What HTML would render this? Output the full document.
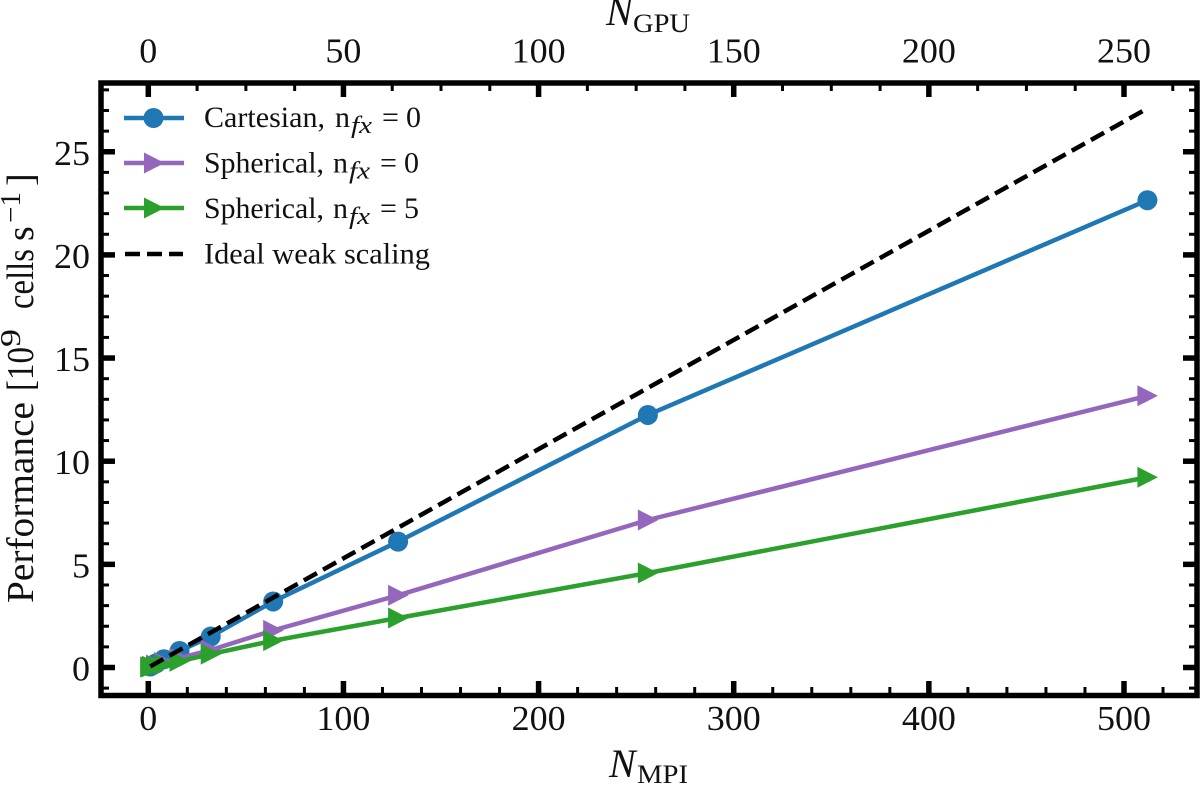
<!DOCTYPE html>
<html>
<head>
<meta charset="utf-8">
<title>Weak scaling performance</title>
<style>
html,body{margin:0;padding:0;background:#fff;width:1200px;height:785px;overflow:hidden}
svg{display:block}
text{font-family:"Liberation Serif","DejaVu Serif",serif;fill:#111}
</style>
</head>
<body>
<svg id="chart" width="1200" height="785" viewBox="0 0 1200 785" xmlns="http://www.w3.org/2000/svg">
  <g id="series-layer"></g>
  <g id="tick-layer"></g>
  <rect x="101" y="83" width="1096" height="612.5" fill="none" stroke="#000" stroke-width="5.5"/>

  <text x="609" y="777" font-size="40" font-style="italic">N</text>
  <text x="637" y="783" font-size="26" textLength="51" lengthAdjust="spacingAndGlyphs">MPI</text>
  <text x="606" y="25" font-size="40" font-style="italic">N</text>
  <text x="633" y="32" font-size="26" textLength="57" lengthAdjust="spacingAndGlyphs">GPU</text>

  <g transform="translate(33,605)">
    <g transform="rotate(-90)">
      <text x="2" y="0" font-size="38" textLength="201" lengthAdjust="spacingAndGlyphs">Performance</text>
      <text x="214" y="0" font-size="38" textLength="44" lengthAdjust="spacingAndGlyphs">[10</text>
      <text x="258" y="-13" font-size="28" textLength="18" lengthAdjust="spacingAndGlyphs">9</text>
      <text x="296" y="0" font-size="38" textLength="60" lengthAdjust="spacingAndGlyphs">cells</text>
      <text x="364" y="0" font-size="38">s</text>
      <text x="382" y="-13" font-size="28" textLength="31" lengthAdjust="spacingAndGlyphs">−1</text>
      <text x="419" y="0" font-size="38">]</text>
    </g>
  </g>

  <g>
    <g>
      <line x1="124" x2="184" y1="118" y2="118" stroke="#1f77b4" stroke-width="4.5"/>
      <circle cx="153.500" cy="118" r="10" fill="#1f77b4"/>
      <text x="204" y="127" font-size="30" textLength="121" lengthAdjust="spacingAndGlyphs">Cartesian,</text>
      <text x="335" y="127" font-size="30">n</text>
      <text x="351" y="133" font-size="24" font-style="italic" textLength="21" lengthAdjust="spacingAndGlyphs">fx</text>
      <text x="382" y="127" font-size="30">=</text>
      <text x="406" y="127" font-size="30">0</text>
    </g>
    <g>
      <line x1="124" x2="184" y1="163" y2="163" stroke="#9467bd" stroke-width="4.5"/>
      <polygon points="144,152.500 164.500,163 144,173.500" fill="#9467bd"/>
      <text x="204" y="172.500" font-size="30" textLength="120" lengthAdjust="spacingAndGlyphs">Spherical,</text>
      <text x="333" y="172.500" font-size="30">n</text>
      <text x="349" y="178.500" font-size="24" font-style="italic" textLength="21" lengthAdjust="spacingAndGlyphs">fx</text>
      <text x="380" y="172.500" font-size="30">=</text>
      <text x="404" y="172.500" font-size="30">0</text>
    </g>
    <g>
      <line x1="124" x2="184" y1="208" y2="208" stroke="#2ca02c" stroke-width="4.5"/>
      <polygon points="144,197.500 164.500,208 144,218.500" fill="#2ca02c"/>
      <text x="204" y="218" font-size="30" textLength="120" lengthAdjust="spacingAndGlyphs">Spherical,</text>
      <text x="333" y="218" font-size="30">n</text>
      <text x="349" y="224" font-size="24" font-style="italic" textLength="21" lengthAdjust="spacingAndGlyphs">fx</text>
      <text x="380" y="218" font-size="30">=</text>
      <text x="404" y="218" font-size="30">5</text>
    </g>
    <g>
      <line x1="125" x2="183" y1="254" y2="254" stroke="#000" stroke-width="4.5" stroke-dasharray="15 7"/>
      <text x="204" y="263.500" font-size="30" textLength="226" lengthAdjust="spacingAndGlyphs">Ideal weak scaling</text>
    </g>
  </g>
</svg>
<script>
const ranks = [1, 2, 4, 8, 16, 32, 64, 128, 256, 512];
const cartesianValues = [0.05, 0.1, 0.2, 0.4, 0.8, 1.5, 3.2, 6.1, 12.24, 22.65];
const sphericalZeroValues = [0.03, 0.06, 0.12, 0.24, 0.45, 0.85, 1.8, 3.5, 7.15, 13.17];
const sphericalFiveValues = [0.02, 0.04, 0.08, 0.16, 0.3, 0.65, 1.3, 2.4, 4.58, 9.22];
const idealRanks = [1, 512];
const idealValues = [0.053, 27.1];
const bottomMajorTicks = [0, 100, 200, 300, 400, 500];
const bottomMinorTicks = [20, 40, 60, 80, 120, 140, 160, 180, 220, 240, 260, 280, 320, 340, 360, 380, 420, 440, 460, 480, 520];
const topMajorTicks = [0, 50, 100, 150, 200, 250];
const topMinorTicks = [12.5, 25, 37.5, 62.5, 75, 87.5, 112.5, 125, 137.5, 162.5, 175, 187.5, 212.5, 225, 237.5, 262.5];
const yMajorTicks = [0, 5, 10, 15, 20, 25];
const yMinorTicks = [-1, 1, 2, 3, 4, 6, 7, 8, 9, 11, 12, 13, 14, 16, 17, 18, 19, 21, 22, 23, 24, 26, 27, 28];

const NS = 'http://www.w3.org/2000/svg';
function xScale(v) { return 148.3 + v * 1.9514; }
function topScale(v) { return 148.3 + v * 3.9028; }
function yScale(v) { return 667.5 - v * 20.63; }

const seriesLayer = document.getElementById('series-layer');
const tickLayer = document.getElementById('tick-layer');

function make(tag, attrs, parent) {
  const el = document.createElementNS(NS, tag);
  for (const k in attrs) el.setAttribute(k, attrs[k]);
  parent.appendChild(el);
  return el;
}
function pointString(xs, ys) {
  return xs.map(function (x, i) { return xScale(x).toFixed(2) + ',' + yScale(ys[i]).toFixed(2); }).join(' ');
}
function drawSeries(name, xs, ys, color, marker) {
  const g = make('g', {}, seriesLayer);
  
  
  const line = make('polyline', { points: pointString(xs, ys), fill: 'none', stroke: color, 'stroke-width': 4.5, 'stroke-linejoin': 'round' }, g);
  
  
  xs.forEach(function (x, i) {
    const px = xScale(x), py = yScale(ys[i]);
    let m;
    if (marker === 'circle') {
      m = make('circle', { cx: px, cy: py, r: 10, fill: color }, g);
    } else {
      const pts = (px - 10) + ',' + (py - 10.5) + ' ' + (px + 10.5) + ',' + py + ' ' + (px - 10) + ',' + (py + 10.5);
      m = make('polygon', { points: pts, fill: color }, g);
    }
    
    
  });
}
drawSeries('series-cartesian', ranks, cartesianValues, '#1f77b4', 'circle');
drawSeries('series-spherical-0', ranks, sphericalZeroValues, '#9467bd', 'triangle');
drawSeries('series-spherical-5', ranks, sphericalFiveValues, '#2ca02c', 'triangle');

const idealLine = make('polyline', { points: pointString(idealRanks, idealValues), fill: 'none', stroke: '#000', 'stroke-width': 4.5, 'stroke-dasharray': '15 7' }, seriesLayer);



function tick(name, x1, y1, x2, y2, w) {
  const t = make('line', { x1: x1, y1: y1, x2: x2, y2: y2, stroke: '#000', 'stroke-width': w }, tickLayer);
  
  
}
function label(name, x, y, anchor, str, len) {
  const t = make('text', { x: x, y: y, 'text-anchor': anchor, 'font-size': 35, textLength: len, lengthAdjust: 'spacingAndGlyphs' }, tickLayer);
  t.textContent = str;
  
  
}
function digitsWidth(v) { return String(v).length * 18; }

bottomMajorTicks.forEach(function (v) {
  const x = xScale(v);
  tick('x-major-tick', x, 695, x, 681, 5.5);
  label('x-tick-label', x, 730, 'middle', String(v), digitsWidth(v));
});
bottomMinorTicks.forEach(function (v) {
  const x = xScale(v);
  tick('x-minor-tick', x, 695, x, 687, 3);
});
topMajorTicks.forEach(function (v) {
  const x = topScale(v);
  tick('top-major-tick', x, 83, x, 97, 5.5);
  label('top-tick-label', x, 62.5, 'middle', String(v), digitsWidth(v));
});
topMinorTicks.forEach(function (v) {
  const x = topScale(v);
  tick('top-minor-tick', x, 83, x, 91, 3);
});
yMajorTicks.forEach(function (v) {
  const y = yScale(v);
  tick('y-major-tick', 101, y, 115, y, 5.5);
  tick('y-right-major-tick', 1197, y, 1183, y, 5.5);
  label('y-tick-label', 90, y + 13, 'end', String(v), digitsWidth(v));
});
yMinorTicks.forEach(function (v) {
  const y = yScale(v);
  tick('y-minor-tick', 101, y, 109, y, 3);
  tick('y-right-minor-tick', 1197, y, 1189, y, 3);
});
</script>
</body>
</html>
